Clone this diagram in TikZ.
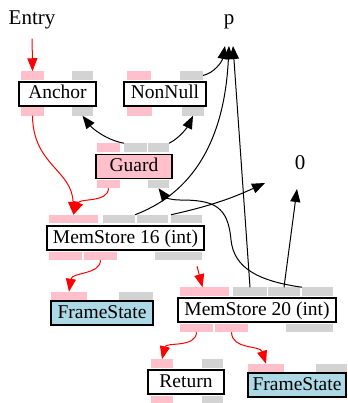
\documentclass[tikz,border=0pt]{standalone}
\usepackage{fontspec}
\setmainfont{Liberation Serif}
\usetikzlibrary{arrows.meta}
\definecolor{portpink}{HTML}{FFC0CB}
\definecolor{portgray}{HTML}{D3D3D3}
\definecolor{guardfill}{HTML}{FFC0CB}
\definecolor{framefill}{HTML}{ADD8E6}
\tikzset{
	>={Triangle[length=13pt,width=10pt]},
	irnode/.style={draw, line width=1.1pt, rectangle, minimum height=24, inner sep=0pt,
		text height=14pt, text depth=4pt, font=\fontsize{19.5}{22}\selectfont},
	plaintext/.style={inner sep=0pt, font=\fontsize{21}{24}\selectfont},
	portbar/.style={rectangle, inner sep=0pt, outer sep=0pt, minimum height=8.5},
	inputedge/.style={->, line width=1pt},
	succedge/.style={->, draw=red, line width=1pt},
}
\newcommand{\portbar}[5]{\node[portbar, fill=#2, minimum width=#4-#3] (#1) at ({(#3+#4)/2},#5) {};}

\begin{document}
\begin{tikzpicture}[x=1pt, y=-1pt]
	\useasboundingbox (0,0) rectangle (347,403);

	% constants and start
	\node[plaintext, anchor=base] (entry) at (32,25) {Entry};
	\node[plaintext, anchor=base] (p) at (229,25) {p};
	\node[plaintext, anchor=base] (zero) at (300,169) {0};
	\coordinate (p-in1) at (225,46);
	\coordinate (p-in2) at (229,46);
	\coordinate (p-in3) at (233,46);
	\coordinate (zero-in1) at (265,183);
	\coordinate (zero-in2) at (297,189);

	% graph nodes
	\node[irnode, minimum width=77] (anchor) at (57.5,94) {Anchor};
	\node[irnode, minimum width=82] (nonnull) at (165,94) {NonNull};
	\node[irnode, minimum width=76, fill=guardfill] (guard) at (134,166.5) {Guard};
	\node[irnode, minimum width=157] (ms16) at (125.5,238) {MemStore 16 (int)};
	\node[irnode, minimum width=102, fill=framefill] (fs16) at (102,313) {FrameState};
	\node[irnode, minimum width=158] (ms20) at (257,310) {MemStore 20 (int)};
	\node[irnode, minimum width=76] (ret) at (186,382) {Return};
	\node[irnode, minimum width=98, fill=framefill] (fs20) at (297,385) {FrameState};

	% ports
	\portbar{anchor-in1}{portpink}{21}{44}{75.5}
	\portbar{anchor-in2}{portgray}{72}{93}{75.5}
	\portbar{anchor-out1}{portpink}{21}{44}{111.5}
	\portbar{anchor-out2}{portgray}{72}{93}{111.5}
	\portbar{nonnull-in1}{portpink}{127}{151}{75.5}
	\portbar{nonnull-in2}{portgray}{180}{203}{75.5}
	\portbar{nonnull-out1}{portpink}{127}{152}{111.5}
	\portbar{nonnull-out2}{portgray}{182}{204}{111.5}
	\portbar{guard-in1}{portpink}{97}{120}{147.5}
	\portbar{guard-in2}{portgray}{124}{147}{147.5}
	\portbar{guard-in3}{portgray}{148}{169}{147.5}
	\portbar{guard-out1}{portpink}{97}{120}{184}
	\portbar{guard-out2}{portgray}{148}{169}{184}
	\portbar{ms16-in1}{portpink}{49}{98}{219}
	\portbar{ms16-in2}{portgray}{103}{135}{219}
	\portbar{ms16-in3}{portgray}{137}{168}{219}
	\portbar{ms16-in4}{portgray}{171}{202}{219}
	\portbar{ms16-out1}{portpink}{49}{82}{256}
	\portbar{ms16-out2}{portpink}{84}{117}{256}
	\portbar{ms16-out3}{portgray}{155}{202}{256}
	\portbar{fs16-in1}{portpink}{51}{87}{296}
	\portbar{fs16-in2}{portgray}{119}{153}{296}
	\portbar{ms20-in1}{portpink}{180}{229}{291.5}
	\portbar{ms20-in2}{portgray}{233}{267}{291.5}
	\portbar{ms20-in3}{portgray}{268}{300}{291.5}
	\portbar{ms20-in4}{portgray}{302}{333}{291.5}
	\portbar{ms20-out1}{portpink}{180}{213}{328}
	\portbar{ms20-out2}{portpink}{215}{248}{328}
	\portbar{ms20-out3}{portgray}{286}{333}{328}
	\portbar{ret-in1}{portpink}{151}{173}{363.5}
	\portbar{ret-in2}{portgray}{202}{223}{363.5}
	\portbar{ret-out1}{portpink}{151}{173}{400.5}
	\portbar{ret-out2}{portgray}{202}{223}{400.5}
	\portbar{fs20-in1}{portpink}{248}{284}{368}
	\portbar{fs20-in2}{portgray}{316}{347}{368}

	% inputs
	\draw[inputedge] (nonnull-in2.east) .. controls (214,73) and (222,62) .. (p-in1);
	\draw[inputedge] (guard-in2.north west) .. controls (106,140) and (92,128) .. (anchor-out2.south);
	\draw[inputedge] (guard-in3.north east) .. controls (180,138) and (188,126) .. (nonnull-out2.south);
	\draw[inputedge] (ms16-in2.north east) .. controls (200,190) and (225,130) .. (p-in2);
	\draw[inputedge] (ms16-in4.north west) to[bend right=6] (zero-in1);
	\draw[inputedge] (ms20-in2.north) -- (p-in3);
	\draw[inputedge] (ms20-in3.north) -- (zero-in2);
	\draw[inputedge] (ms20-in4.north west) .. controls (258,281) and (234,268) .. (231,240)
		.. controls (228,206) and (214,200) .. (180,200)
		.. controls (170,200) and (165,197) .. (guard-out2.south);

	% successors
	\draw[succedge, shorten <=9pt] (entry.south) -- (anchor-in1.north);
	\draw[succedge] (anchor-out1.south) .. controls (33,165) and (72,170) .. (ms16-in1.north);
	\draw[succedge] (guard-out1.south) .. controls (108,203) and (80,198) .. (ms16-in1.north);
	\draw[succedge] (ms16-out2.south) .. controls (100,275) and (72,272) .. (fs16-in1.north);
	\draw[succedge] ([xshift=-5pt,yshift=-6pt]ms16-out3.south east) -- ([xshift=-2pt]ms20-in1.north);
	\draw[succedge] (ms20-out1.south) .. controls (196,348) and (166,342) .. (ret-in1.north);
	\draw[succedge] (ms20-out2.south) .. controls (232,350) and (260,345) .. (fs20-in1.north);
\end{tikzpicture}
\end{document}
